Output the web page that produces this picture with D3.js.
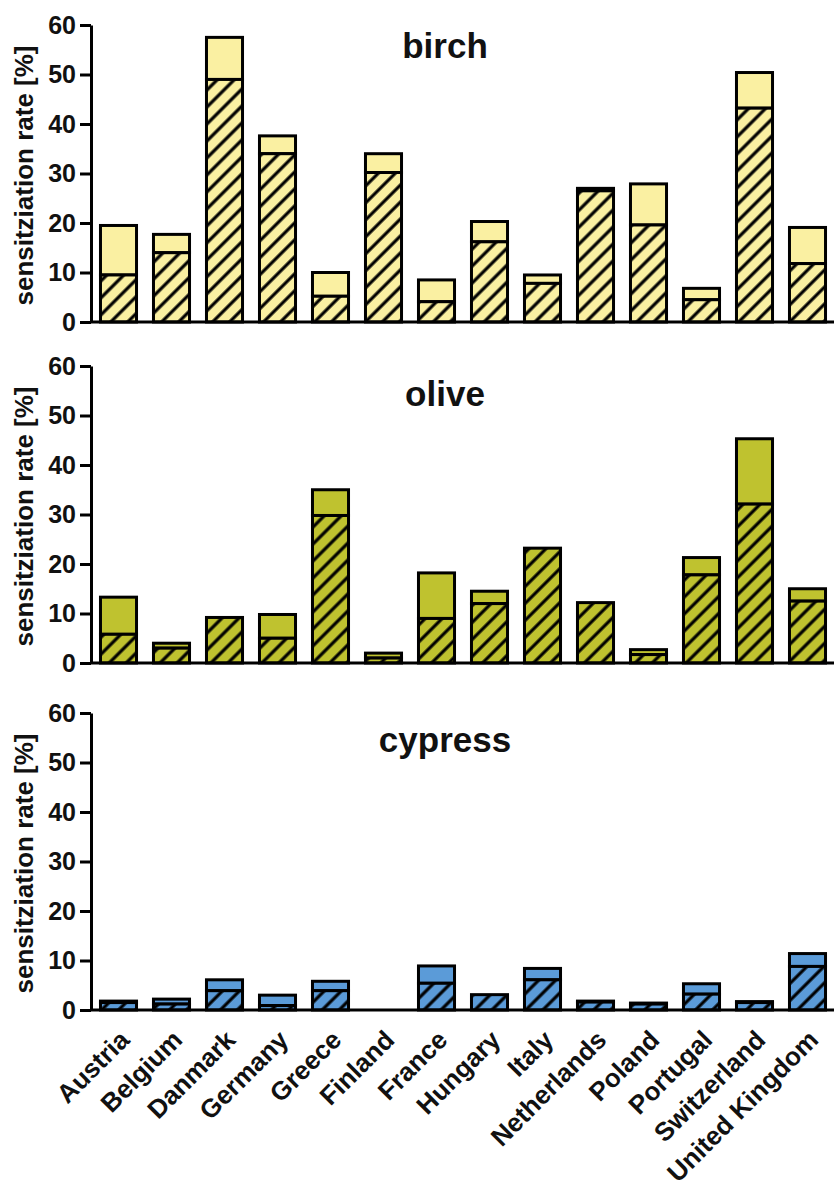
<!DOCTYPE html>
<html>
<head>
<meta charset="utf-8">
<script src="https://cdn.jsdelivr.net/npm/d3@7"></script>
<style>
  body { margin: 0; background: #fff; }
  text { font-family: "Liberation Sans", Arial, sans-serif; font-weight: bold; }
</style>
</head>
<body>
<div id="chart"></div>
<script>
// categories
const countries = ["Austria", "Belgium", "Danmark", "Germany", "Greece", "Finland", "France",
  "Hungary", "Italy", "Netherlands", "Poland", "Portugal", "Switzerland", "United Kingdom"];

// sensitization rates [%], whole bar and hatched part
const birchTotal     = [19.5, 17.7, 57.5, 37.6, 10.0, 34.0, 8.5, 20.3, 9.5, 27.0, 27.9, 6.8, 50.4, 19.1];
const birchHatched   = [9.5, 14.0, 49.0, 34.0, 5.2, 30.2, 4.1, 16.2, 7.8, 26.5, 19.6, 4.5, 43.2, 11.8];
const oliveTotal     = [13.3, 4.0, 9.2, 9.8, 35.0, 2.0, 18.2, 14.5, 23.2, 12.2, 2.7, 21.3, 45.3, 15.0];
const oliveHatched   = [5.8, 3.0, 9.2, 5.0, 29.8, 1.0, 9.0, 12.0, 23.2, 12.2, 1.7, 17.8, 32.1, 12.5];
const cypressTotal   = [1.8, 2.2, 6.1, 3.0, 5.8, 0, 8.9, 3.1, 8.4, 1.8, 1.4, 5.3, 1.7, 11.4];
const cypressHatched = [1.5, 1.2, 3.9, 0.9, 3.9, 0, 5.4, 3.1, 6.1, 1.6, 1.2, 3.2, 1.5, 8.8];

const yTicks = [0, 10, 20, 30, 40, 50, 60];

const width = 834, height = 1190;
const axisX = 91;

const panels = [
  { name: "birch",   total: birchTotal,   hatched: birchHatched,   color: "#faf0a2", top: 25,  bottom: 322,  titleY: 58 },
  { name: "olive",   total: oliveTotal,   hatched: oliveHatched,   color: "#bfc22f", top: 366, bottom: 663,  titleY: 406 },
  { name: "cypress", total: cypressTotal, hatched: cypressHatched, color: "#5b9bd8", top: 713, bottom: 1010, titleY: 752 }
];

const svg = d3.select("#chart").append("svg")
  .attr("width", width)
  .attr("height", height);

// hatch pattern "///"
svg.append("defs").append("pattern")
  .attr("id", "hatch")
  .attr("patternUnits", "userSpaceOnUse")
  .attr("width", 12)
  .attr("height", 12)
  .attr("patternTransform", "rotate(45)")
  .append("line")
  .attr("x1", 6).attr("y1", -2)
  .attr("x2", 6).attr("y2", 14)
  .attr("stroke", "#000")
  .attr("stroke-width", 3.2);

const x = d3.scaleBand()
  .domain(countries)
  .range([axisX + 1, width])
  .paddingInner(0.32)
  .paddingOuter(0.16);

panels.forEach((p, k) => {
  const y = d3.scaleLinear().domain([0, 60]).range([p.bottom, p.top]);
  const g = svg.append("g");

  const rows = countries.map((c, i) => ({ c: c, total: p.total[i], hatched: p.hatched[i] }))
    .filter(d => d.total > 0);

  // upper plain part
  g.selectAll(".plain").data(rows.filter(d => d.total > d.hatched)).enter()
    .append("rect")
    .attr("x", d => x(d.c))
    .attr("y", d => y(d.total))
    .attr("width", x.bandwidth())
    .attr("height", d => y(d.hatched) - y(d.total))
    .attr("fill", p.color)
    .attr("stroke", "#000")
    .attr("stroke-width", 3);

  // hatched lower part: colour underneath, hatch on top
  g.selectAll(".hfill").data(rows).enter()
    .append("rect")
    .attr("x", d => x(d.c))
    .attr("y", d => y(d.hatched))
    .attr("width", x.bandwidth())
    .attr("height", d => y(0) - y(d.hatched))
    .attr("fill", p.color);
  g.selectAll(".hatch").data(rows).enter()
    .append("rect")
    .attr("x", d => x(d.c))
    .attr("y", d => y(d.hatched))
    .attr("width", x.bandwidth())
    .attr("height", d => y(0) - y(d.hatched))
    .attr("fill", "url(#hatch)")
    .attr("stroke", "#000")
    .attr("stroke-width", 3);

  // y axis
  const yAxis = svg.append("g")
    .attr("transform", "translate(" + axisX + ",0)")
    .call(d3.axisLeft(y).tickValues(yTicks).tickSize(11).tickPadding(4).tickSizeOuter(0));
  yAxis.select(".domain").attr("stroke-width", 3);
  yAxis.selectAll(".tick line").attr("stroke-width", 3);
  yAxis.selectAll(".tick text")
    .style("font-size", "25px")
    .style("font-family", "'Liberation Sans', Arial, sans-serif")
    .style("font-weight", "bold")
    .attr("fill", "#111");

  // x axis line
  const xAxis = svg.append("g")
    .attr("transform", "translate(0," + p.bottom + ")")
    .call(d3.axisBottom(x).tickSize(0).tickFormat(k === 2 ? null : ""));
  xAxis.select(".domain").attr("d", "M" + (axisX - 1) + ",0H" + width).attr("stroke-width", 3);

  if (k === 2) {
    xAxis.selectAll(".tick text")
      .style("font-size", "26px")
      .style("font-family", "'Liberation Sans', Arial, sans-serif")
      .style("font-weight", "bold")
      .attr("fill", "#111")
      .attr("text-anchor", "end")
      .attr("y", 0)
      .attr("dy", "0.35em")
      .attr("transform", "translate(6,25) rotate(-45)");
  }

  // y label
  svg.append("text")
    .attr("transform", "translate(33," + ((p.top + p.bottom) / 2 + 2) + ") rotate(-90)")
    .attr("text-anchor", "middle")
    .style("font-size", "26px")
    .attr("fill", "#111")
    .text("sensitziation rate [%]");

  // panel title
  svg.append("text")
    .attr("x", 445)
    .attr("y", p.titleY)
    .attr("text-anchor", "middle")
    .style("font-size", "35px")
    .attr("fill", "#111")
    .text(p.name);
});
</script>
</body>
</html>
